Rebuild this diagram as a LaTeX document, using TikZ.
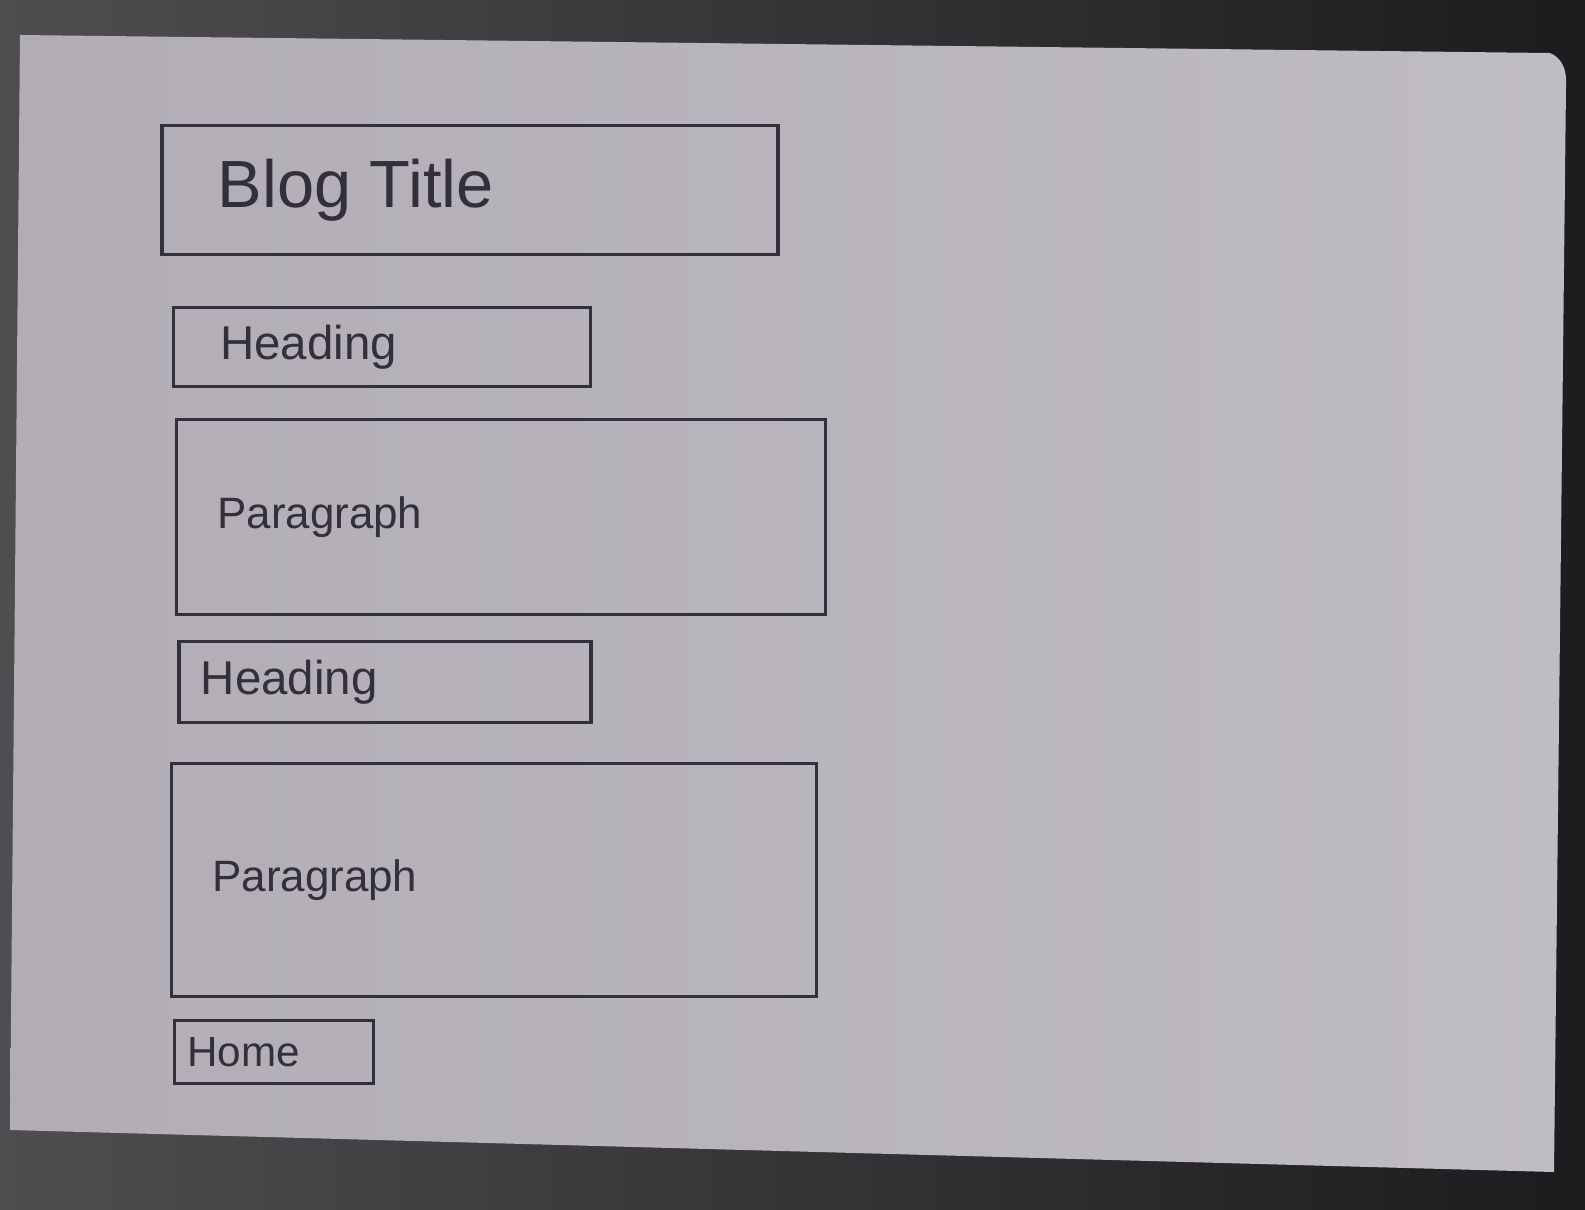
\documentclass[tikz,border=0pt]{standalone}
\usepackage{fontspec}
\setmainfont{Liberation Sans}
\usetikzlibrary{positioning}

\definecolor{deskleft}{RGB}{78,77,80}
\definecolor{deskright}{RGB}{28,28,30}
\definecolor{paper}{RGB}{178,173,181}
\definecolor{paperlight}{RGB}{192,188,196}
\definecolor{pen}{RGB}{50,48,60}

\tikzset{
  uibox/.style={draw=pen,line width=1.1pt,inner sep=0pt},
  pentext/.style={text=pen,inner sep=0pt},
  bigtext/.style={pentext,font=\fontsize{19}{23}\selectfont},
  midtext/.style={pentext,font=\fontsize{13.5}{16}\selectfont},
  paratext/.style={pentext,font=\fontsize{12.5}{15}\selectfont},
  smalltext/.style={pentext,font=\fontsize{12}{14}\selectfont},
}

\begin{document}
\begin{tikzpicture}[x=1cm,y=-1cm]
  \useasboundingbox (0,0) rectangle (15.85,12.09);
  % desk and sheet
  \shade[left color=deskleft,right color=deskright] (0,0) rectangle (15.85,12.09);
  \shade[left color=paper,right color=paperlight]
    (0.20,0.35) -- (15.50,0.53) .. controls (15.62,0.58) and (15.67,0.70) .. (15.66,0.85)
    -- (15.54,11.72) -- (0.10,11.30) -- cycle;

  % wireframe boxes
  \node[uibox,minimum width=6.16cm,minimum height=1.29cm] (title) at (4.70,1.90) {};
  \node[uibox,minimum width=4.17cm,minimum height=0.79cm] (head1) at (3.82,3.47) {};
  \node[uibox,minimum width=6.49cm,minimum height=1.95cm] (para1) at (5.01,5.17) {};
  \node[uibox,minimum width=4.12cm,minimum height=0.81cm] (head2) at (3.85,6.82) {};
  \node[uibox,minimum width=6.45cm,minimum height=2.33cm] (para2) at (4.94,8.80) {};
  \node[uibox,minimum width=1.99cm,minimum height=0.63cm] (home) at (2.74,10.52) {};

  % labels
  \node[bigtext,right=0.57cm of title.west] (titlelabel) {Blog Title};
  \node[midtext,right=0.48cm of head1.west] (head1label) {Heading};
  \node[paratext,right=0.42cm of para1.west] (para1label) {Paragraph};
  \node[midtext,right=0.23cm of head2.west] (head2label) {Heading};
  \node[paratext,right=0.42cm of para2.west] (para2label) {Paragraph};
  \node[smalltext,right=0.14cm of home.west] (homelabel) {Home};
\end{tikzpicture}
\end{document}
